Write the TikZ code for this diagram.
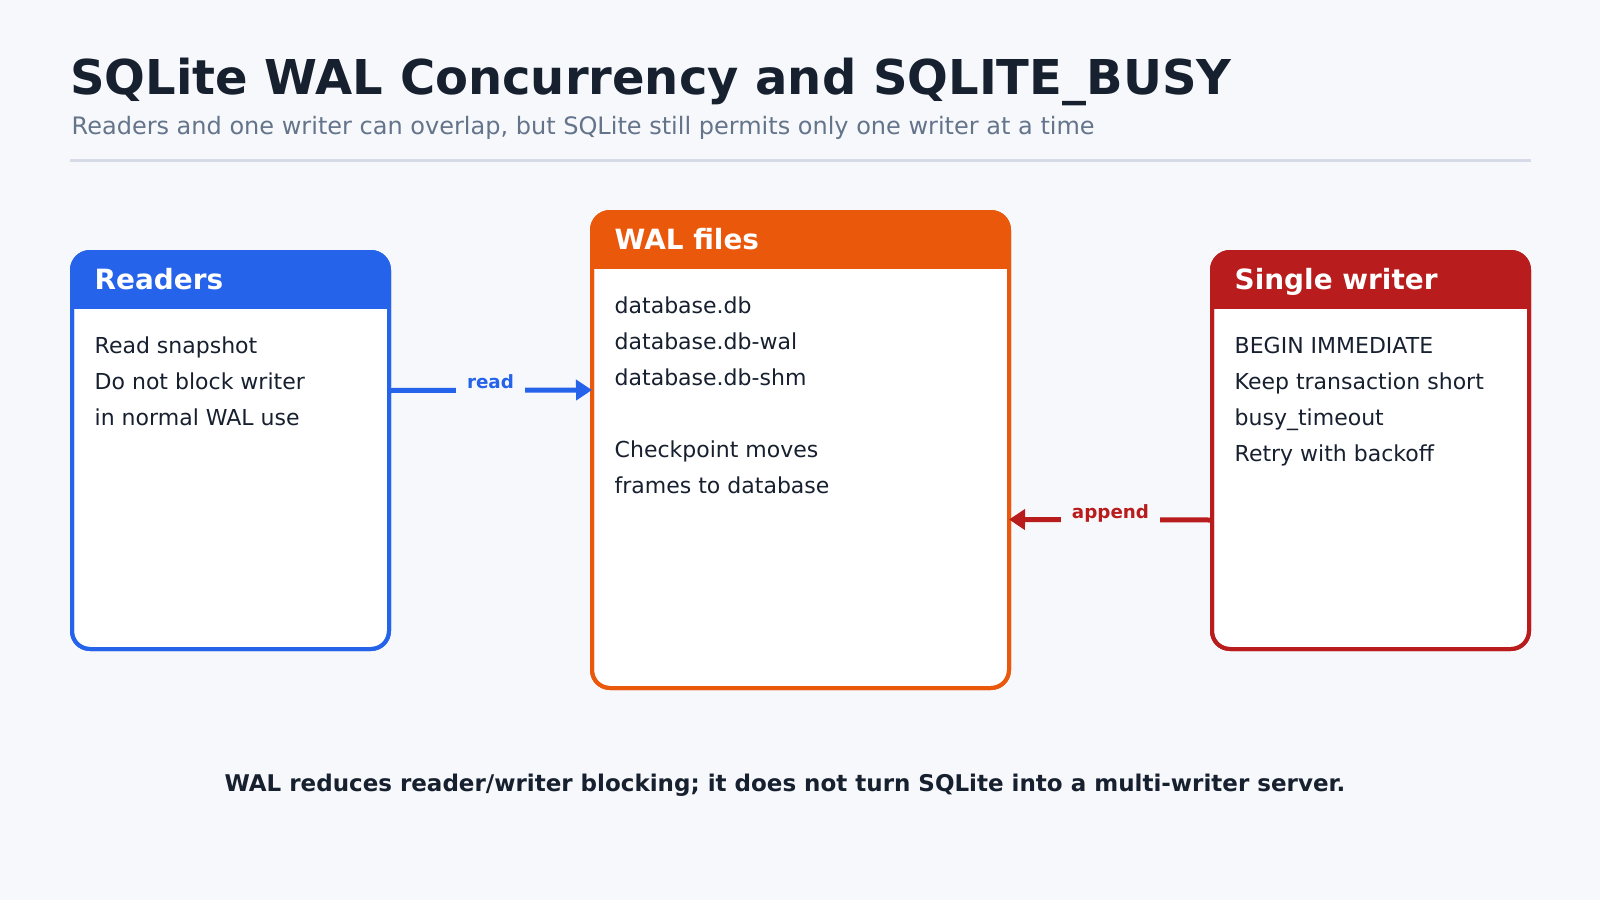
\documentclass[tikz,border=0pt]{standalone}
\usepackage{fontspec}
\setmainfont{DejaVu Sans}
\usetikzlibrary{arrows.meta}
\definecolor{bg}{HTML}{F6F8FB}
\definecolor{ink}{HTML}{17202F}
\definecolor{sub}{HTML}{64748B}
\definecolor{rulec}{HTML}{D5DCE7}
\definecolor{cblue}{HTML}{2563EB}
\definecolor{corange}{HTML}{EA580C}
\definecolor{cred}{HTML}{B91C1C}
\tikzset{
  card/.style={draw=#1, line width=4pt, fill=white, rounded corners=18pt, inner sep=0pt, outer sep=0pt, anchor=north west},
  headtext/.style={font=\bfseries\fontsize{27.9}{32}\selectfont, text=white, anchor=base west, inner sep=0pt},
  bodytext/.style={font=\fontsize{22}{26}\selectfont, text=ink, anchor=base west, inner sep=0pt},
  conn/.style={draw=#1, line width=5pt, -{Triangle[length=16pt,width=20pt]}},
  connlabel/.style={font=\bfseries\fontsize{18.3}{22}\selectfont, text=#1, fill=bg, inner xsep=11pt, inner ysep=6pt, anchor=base},
}
\newcommand{\cardhead}[2]{%
  \begin{scope}
    \clip[rounded corners=18pt] (#1.north west) rectangle (#1.south east);
    \fill[#2] ([yshift=3pt]#1.north west) rectangle ([yshift=-57pt]#1.north east);
  \end{scope}
  \draw[#2, line width=4pt, rounded corners=18pt] (#1.north west) rectangle (#1.south east);
}
\begin{document}
\begin{tikzpicture}[x=1pt,y=-1pt]
  \fill[bg] (0,0) rectangle (1600,900);
  \useasboundingbox (0,0) rectangle (1600,900);

  \node[font=\bfseries\fontsize{48}{54}\selectfont, text=ink, anchor=base west, inner sep=0pt] (title) at (70,94) {SQLite WAL Concurrency and SQLITE\_BUSY};
  \node[font=\fontsize{24}{28}\selectfont, text=sub, anchor=base west, inner sep=0pt] (subtitle) at (71.5,134.3) {Readers and one writer can overlap, but SQLite still permits only one writer at a time};
  \draw[rulec, line width=3pt] (70,160) -- (1531,160);

  % Readers
  \node[card=cblue, minimum width=317pt, minimum height=397pt] (readers) at (72,252) {};
  \cardhead{readers}{cblue}
  \node[headtext] (readersh) at (94.5,289) {Readers};
  \node[bodytext] (r1) at (94.5,353.5) {Read snapshot};
  \node[bodytext] (r2) at (94.5,389.5) {Do not block writer};
  \node[bodytext] (r3) at (94.5,425.5) {in normal WAL use};

  % WAL files
  \node[card=corange, minimum width=417pt, minimum height=476pt] (wal) at (592,212) {};
  \cardhead{wal}{corange}
  \node[headtext] (walh) at (614.5,249) {WAL files};
  \node[bodytext] (w1) at (614.5,313.5) {database.db};
  \node[bodytext] (w2) at (614.5,349.5) {database.db-wal};
  \node[bodytext] (w3) at (614.5,385.5) {database.db-shm};
  \node[bodytext] (w4) at (614.5,457.5) {Checkpoint moves};
  \node[bodytext] (w5) at (614.5,493.5) {frames to database};

  % Single writer
  \node[card=cred, minimum width=317pt, minimum height=397pt] (writer) at (1212,252) {};
  \cardhead{writer}{cred}
  \node[headtext] (writerh) at (1234.5,289) {Single writer};
  \node[bodytext] (s1) at (1234.5,353.5) {BEGIN IMMEDIATE};
  \node[bodytext] (s2) at (1234.5,389.5) {Keep transaction short};
  \node[bodytext] (s3) at (1234.5,425.5) {busy\_timeout};
  \node[bodytext] (s4) at (1234.5,461.5) {Retry with backoff};

  % connectors
  \draw[conn=cblue] ([yshift=60pt]readers.east) -- node[connlabel=cblue, yshift=1.5pt] (readlbl) {read} ([yshift=60pt]wal.west);
  \draw[conn=cred] ([yshift=-69.5pt]writer.west) -- node[connlabel=cred, yshift=1pt] (applbl) {append} ([yshift=-69.5pt]wal.east);

  \node[font=\bfseries\fontsize{23}{27}\selectfont, text=ink, anchor=base, inner sep=0pt] (footer) at (785,791) {WAL reduces reader/writer blocking; it does not turn SQLite into a multi-writer server.};
\end{tikzpicture}
\end{document}
